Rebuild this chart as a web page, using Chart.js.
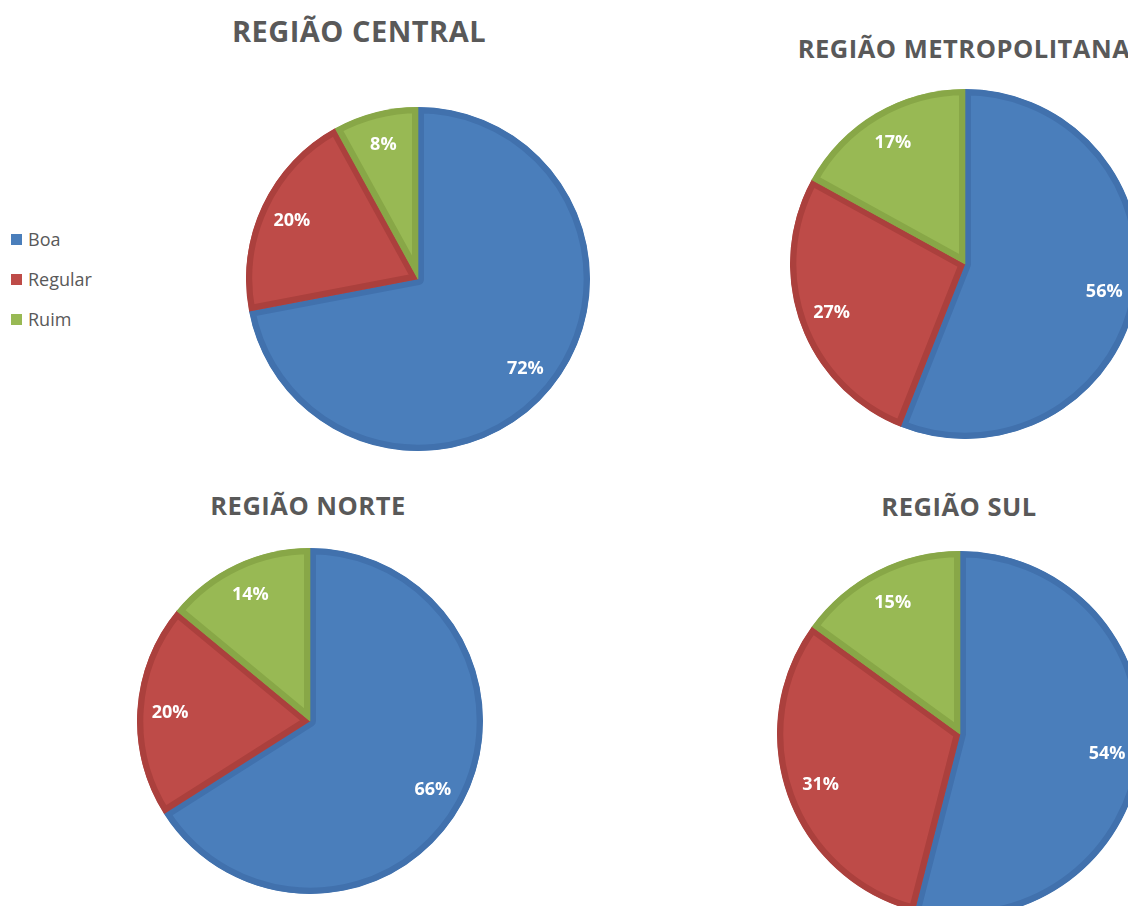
<!DOCTYPE html>
<html>
<head>
<meta charset="utf-8">
<script src="https://cdn.jsdelivr.net/npm/chart.js@4.4.1/dist/chart.umd.min.js"></script>
<style>
  html, body { margin: 0; padding: 0; background: #fff; }
  body { width: 1128px; height: 906px; overflow: hidden; position: relative; font-family: "Open Sans", sans-serif; }
  .box { position: absolute; }
  .title { position: absolute; font-weight: bold; color: #595959; white-space: nowrap; transform: translate(-50%, -50%); letter-spacing: 0.5px; }
  #legend { position: absolute; left: 11px; top: 219px; }
  .item { height: 40px; display: flex; align-items: center; font-size: 18px; color: #595959; }
  .item span { display: inline-block; width: 11px; height: 11px; margin-right: 6px; }
</style>
</head>
<body>
<div id="legend"></div>

<script>
const categories = ['Boa', 'Regular', 'Ruim'];
const regions = ['REGIÃO CENTRAL', 'REGIÃO METROPOLITANA', 'REGIÃO NORTE', 'REGIÃO SUL'];
const central = [72, 20, 8];
const metropolitana = [56, 27, 17];
const norte = [66, 20, 14];
const sul = [54, 31, 15];

const fills = ['#4a7ebb', '#be4b48', '#98b954'];
const borders = ['#4171ad', '#ab403d', '#88a747'];

// where each pie sits on the page (center x, center y, radius) and its title
const layout = [
  { cx: 418, cy: 279, r: 172, tx: 359, ty: 30, ts: 29 },
  { cx: 965, cy: 264, r: 175, tx: 964, ty: 48, ts: 25.5 },
  { cx: 310, cy: 721, r: 173, tx: 308, ty: 505, ts: 25.5 },
  { cx: 960, cy: 734, r: 183, tx: 959, ty: 506, ts: 25.5 }
];
const allData = [central, metropolitana, norte, sul];

// legend
const legend = document.getElementById('legend');
categories.forEach(function(c, i) {
  const d = document.createElement('div');
  d.className = 'item';
  d.innerHTML = '<span style="background:' + fills[i] + '"></span>' + c;
  legend.appendChild(d);
});

// percent labels inside slices
const pctLabels = {
  id: 'pctLabels',
  afterDatasetsDraw(chart) {
    const ctx = chart.ctx;
    const meta = chart.getDatasetMeta(0);
    const values = chart.data.datasets[0].data;
    ctx.save();
    ctx.font = 'bold 18px "Open Sans", sans-serif';
    ctx.fillStyle = '#ffffff';
    ctx.textAlign = 'center';
    ctx.textBaseline = 'middle';
    meta.data.forEach(function(arc, i) {
      const p = arc.getProps(['x', 'y', 'startAngle', 'endAngle', 'outerRadius'], true);
      const mid = (p.startAngle + p.endAngle) / 2;
      const rr = p.outerRadius * 0.81;
      ctx.fillText(values[i] + '%', p.x + Math.cos(mid) * rr, p.y + Math.sin(mid) * rr + 1);
    });
    ctx.restore();
  }
};

layout.forEach(function(L, k) {
  const t = document.createElement('div');
  t.className = 'title';
  t.style.left = L.tx + 'px';
  t.style.top = L.ty + 'px';
  t.style.fontSize = L.ts + 'px';
  t.textContent = regions[k];
  document.body.appendChild(t);

  const box = document.createElement('div');
  box.className = 'box';
  box.style.left = (L.cx - L.r) + 'px';
  box.style.top = (L.cy - L.r) + 'px';
  box.style.width = (2 * L.r) + 'px';
  box.style.height = (2 * L.r) + 'px';
  const cv = document.createElement('canvas');
  box.appendChild(cv);
  document.body.appendChild(box);

  new Chart(cv.getContext('2d'), {
    type: 'pie',
    data: {
      labels: categories,
      datasets: [{
        data: allData[k],
        backgroundColor: fills,
        borderColor: borders,
        borderWidth: 6,
        borderAlign: 'inner',
        hoverOffset: 0,
        hoverBorderWidth: 6
      }]
    },
    options: {
      responsive: true,
      maintainAspectRatio: false,
      animation: false,
      layout: { padding: 0 },
      plugins: {
        legend: { display: false },
        tooltip: { enabled: false }
      }
    },
    plugins: [pctLabels]
  });
});
</script>
</body>
</html>
